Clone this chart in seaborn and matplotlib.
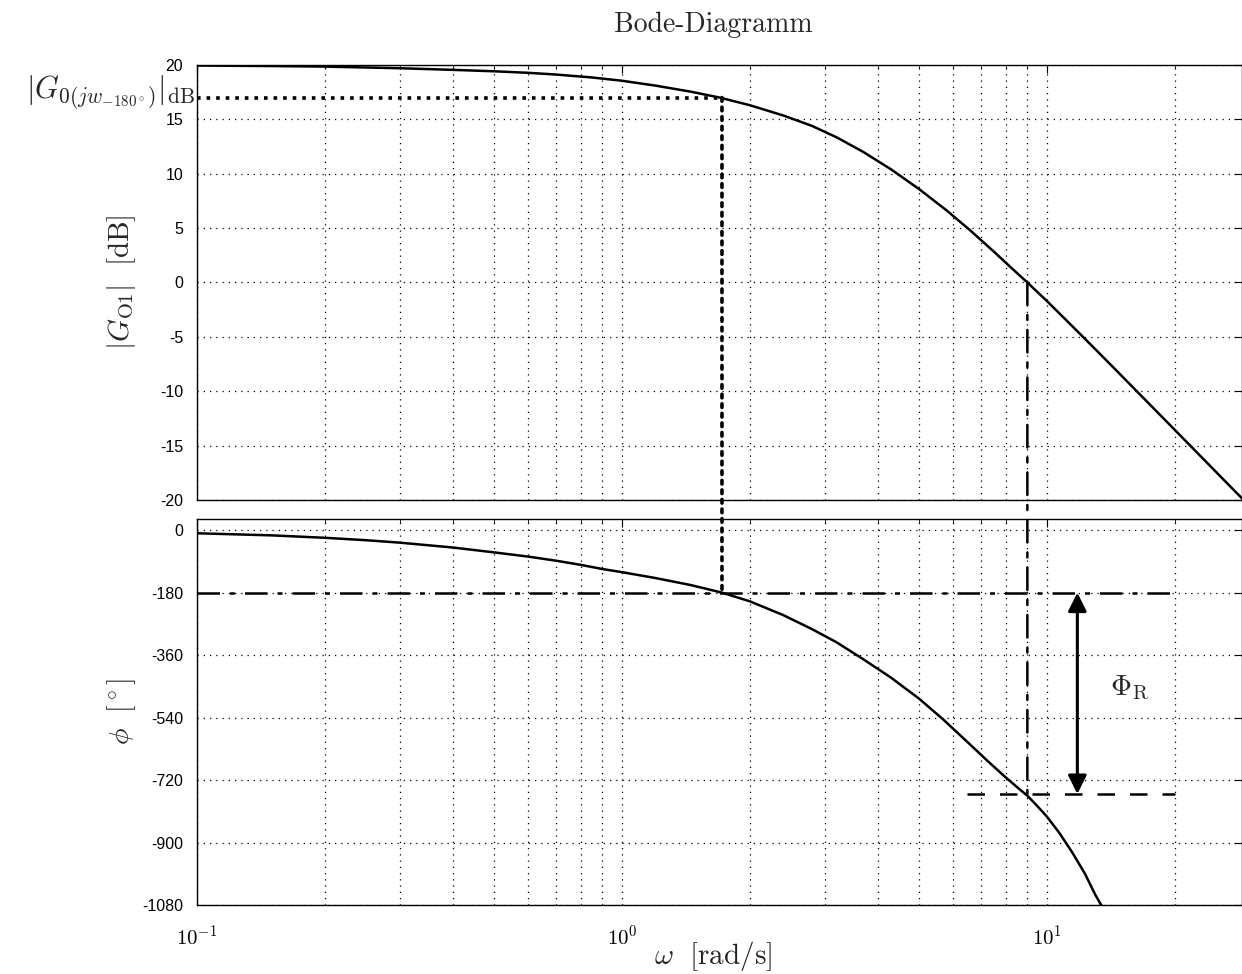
import numpy as np
import pandas as pd
import matplotlib
matplotlib.use('Agg')
import matplotlib.pyplot as plt
from matplotlib.patches import ConnectionPatch
from matplotlib.ticker import FuncFormatter, LogLocator, NullFormatter
import seaborn as sns

# Betragsgang
w_mag = [0.1, 0.15, 0.2, 0.3, 0.4, 0.5, 0.6, 0.7, 0.85, 1.0, 1.2, 1.45, 1.7, 2.0,
         2.4, 2.8, 3.2, 3.7, 4.3, 5.0, 5.8, 6.6, 7.5, 8.3, 9.0, 10.0, 11.0, 12.0,
         13.0, 14.5, 16.0, 18.0, 20.0, 22.0, 24.0, 26.0, 28.0, 30.0]
mag_db = [19.95, 19.9, 19.85, 19.7, 19.55, 19.42, 19.28, 19.12, 18.85, 18.55, 18.1,
          17.55, 17.0, 16.3, 15.35, 14.4, 13.35, 12.0, 10.4, 8.6, 6.65, 4.8, 2.85,
          1.25, 0.0, -1.7, -3.3, -4.77, -6.13, -8.0, -9.7, -11.73, -13.55, -15.2,
          -16.7, -18.09, -19.37, -20.55]

# Phasengang
w_ph = [0.1, 0.15, 0.2, 0.25, 0.3, 0.4, 0.5, 0.6, 0.7, 0.8, 0.9, 1.0, 1.2, 1.45,
        1.72, 2.0, 2.4, 2.8, 3.2, 3.7, 4.3, 5.0, 5.7, 6.5, 7.3, 8.0, 8.6, 9.0,
        9.5, 10.0, 10.7, 11.5, 12.3, 13.0, 13.5, 14.0]
phase_deg = [-9, -15, -22, -29, -36, -50, -64, -76, -88, -100, -112, -121, -138,
             -158, -180, -205, -245, -285, -323, -372, -425, -485, -545, -610,
             -668, -712, -745, -765, -795, -825, -872, -930, -990, -1050, -1085,
             -1120]

mag_ticks = [20, 15, 10, 5, 0, -5, -10, -15, -20]
phase_ticks = [0, -180, -360, -540, -720, -900, -1080]

# Markante Punkte
w_180 = 1.72       # Phasenschnittfrequenz
mag_180 = 17.0     # |G0| bei w_-180
w_d = 9.0          # Durchtrittsfrequenz
phase_d = -760     # Phase bei w_d
w_arrow = 11.8
w_line_end = 20.0
w_lower_start = 6.5

sns.set_style("white")
plt.rcParams['mathtext.fontset'] = 'cm'
plt.rcParams['axes.unicode_minus'] = False
plt.rcParams['font.family'] = ['Liberation Sans', 'DejaVu Sans']

fig = plt.figure(figsize=(12.42, 9.74), dpi=100)
ax1 = fig.add_axes([0.1586, 0.4867, 0.8414, 0.4466])
ax2 = fig.add_axes([0.1586, 0.0708, 0.8414, 0.3963])

df_mag = pd.DataFrame({'w': w_mag, 'mag': mag_db})
df_ph = pd.DataFrame({'w': w_ph, 'phase': phase_deg})
sns.lineplot(data=df_mag, x='w', y='mag', ax=ax1, color='black', linewidth=1.8)
sns.lineplot(data=df_ph, x='w', y='phase', ax=ax2, color='black', linewidth=1.8)

xmin, xmax = 0.1, 28.8
grid_kw = dict(color='black', linestyle=(0, (1, 4)), linewidth=0.9)
for ax in (ax1, ax2):
    ax.set_xscale('log')
    ax.set_xlim(xmin, xmax)
    ax.xaxis.set_major_locator(LogLocator(base=10))
    ax.xaxis.set_minor_locator(LogLocator(base=10, subs=np.arange(2, 10)))
    ax.xaxis.set_minor_formatter(NullFormatter())
    ax.grid(True, which='major', axis='both', **grid_kw)
    ax.grid(True, which='minor', axis='x', **grid_kw)
    ax.tick_params(which='both', direction='in', top=True, right=True,
                   labelsize=11.5, colors='black')
    ax.tick_params(axis='y', pad=10)
    ax.tick_params(which='major', length=6)
    ax.tick_params(which='minor', length=3)
    for sp in ax.spines.values():
        sp.set_color('black')
        sp.set_linewidth(1.0)
    ax.set_xlabel('')

ax1.set_ylim(-20, 20)
ax1.set_yticks(mag_ticks)
ax1.xaxis.set_major_formatter(NullFormatter())
ax1.set_ylabel(r'$|G_{\mathrm{O1}}|\ \ [\mathrm{dB}]$', fontsize=21)
ax1.yaxis.set_label_coords(-0.056, 0.5)

ax2.set_ylim(-1080, 32)
ax2.set_yticks(phase_ticks)
ax2.xaxis.set_major_formatter(FuncFormatter(
    lambda v, p: r'$\mathsf{10^{%d}}$' % int(round(np.log10(v)))))
ax2.tick_params(axis='x', pad=14, labelsize=15)
ax2.set_ylabel(r'$\phi\ \ [^\circ]$', fontsize=20)
ax2.yaxis.set_label_coords(-0.056, 0.5)

# Hilfslinien
ax1.plot([xmin, w_180], [mag_180, mag_180], color='black', linestyle=':',
         linewidth=2.6)
con1 = ConnectionPatch(xyA=(w_180, mag_180), coordsA=ax1.transData,
                       xyB=(w_180, -180), coordsB=ax2.transData,
                       color='black', linestyle=':', linewidth=2.6)
fig.add_artist(con1)
con2 = ConnectionPatch(xyA=(w_d, 0), coordsA=ax1.transData,
                       xyB=(w_d, phase_d), coordsB=ax2.transData,
                       color='black', linestyle=(0, (9, 4, 2, 4)), linewidth=1.8)
fig.add_artist(con2)
ax2.plot([xmin, w_line_end], [-180, -180], color='black',
         linestyle=(0, (9, 4, 2, 4)), linewidth=1.8)
ax2.plot([w_lower_start, w_line_end], [phase_d, phase_d], color='black',
         linestyle=(0, (7, 6)), linewidth=1.8)
ax2.annotate('', xy=(w_arrow, -180), xytext=(w_arrow, phase_d),
             arrowprops=dict(arrowstyle='<|-|>', color='black', lw=2.2,
                             mutation_scale=28, shrinkA=0, shrinkB=0))
ax2.text(15.7, -455, r'$\Phi_{\mathrm{R}}$', fontsize=21, ha='center', va='center')

fig.text(0.157, 1 - 92 / 974, r'$|G_{0(jw_{-180^\circ})}|_{\mathrm{dB}}$',
         fontsize=22, ha='right', va='center')
fig.text(0.574, 1 - 25 / 974, 'Bode-Diagramm', fontsize=20, family='cmr10',
         ha='center', va='center')
fig.text(0.574, 0.018, r'$\omega\ \ [\mathrm{rad/s}]$', fontsize=21,
         ha='center', va='center')

fig.savefig('out.png', dpi=100)
